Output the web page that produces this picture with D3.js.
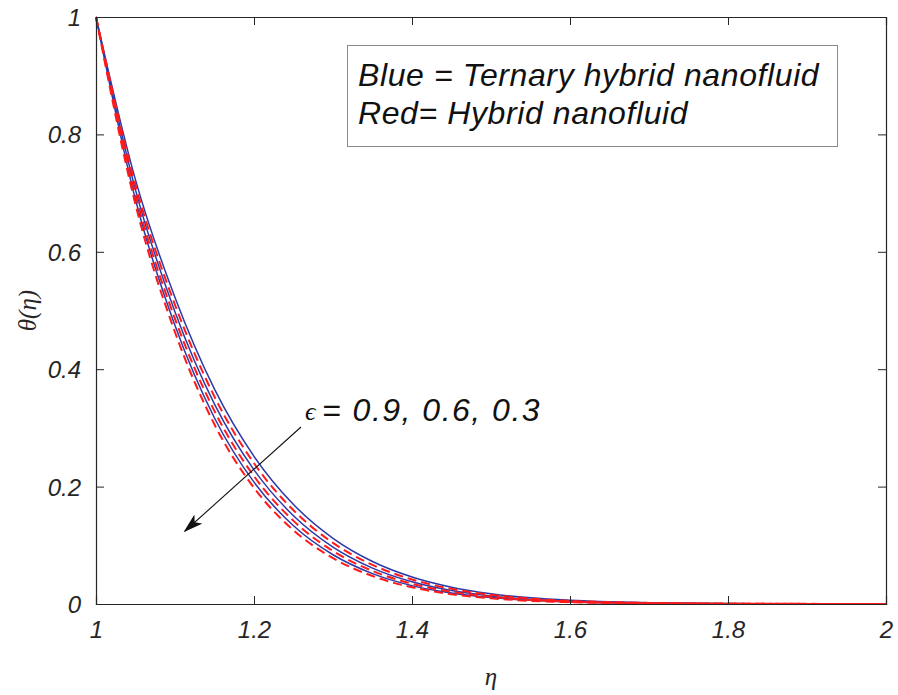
<!DOCTYPE html>
<html><head><meta charset="utf-8">
<script src="https://cdn.jsdelivr.net/npm/d3@7"></script>
<style>body{margin:0;background:#fff}</style>
</head><body>
<svg id="chart" width="898" height="695"></svg>
<script>
// ---- data ----
const eta = [1.00,1.05,1.10,1.15,1.20,1.25,1.30,1.35,1.40,1.45,1.50,1.55,1.60,1.70,1.80,1.90,2.00];
const blue09 = [1,0.7225,0.5220,0.3660,0.2516,0.1695,0.1119,0.0724,0.0460,0.0287,0.0176,0.0105,0.0062,0.0022,0.0008,0.0003,0];
const red09  = [1,0.7139,0.5097,0.3531,0.2398,0.1596,0.1041,0.0666,0.0418,0.0258,0.0156,0.0092,0.0053,0.0019,0.0007,0.00025,0];
const blue06 = [1,0.7054,0.4976,0.3406,0.2286,0.1503,0.0969,0.0612,0.0379,0.0231,0.0138,0.0080,0.0046,0.0016,0.0006,0.0002,0];
const red06  = [1,0.6970,0.4858,0.3286,0.2178,0.1416,0.0902,0.0563,0.0345,0.0208,0.0123,0.0070,0.0040,0.0014,0.0005,0.0002,0];
const blue03 = [1,0.6887,0.4743,0.3169,0.2076,0.1333,0.0839,0.0518,0.0313,0.0186,0.0109,0.0062,0.0035,0.0012,0.0004,0.00015,0];
const red03  = [1,0.6805,0.4630,0.3057,0.1979,0.1256,0.0781,0.0476,0.0284,0.0167,0.0097,0.0054,0.0030,0.0010,0.0004,0.0001,0];
const xTicks = [1,1.2,1.4,1.6,1.8,2];
const yTicks = [0,0.2,0.4,0.6,0.8,1];
const legendLines = ["Blue = Ternary hybrid nanofluid","Red= Hybrid nanofluid"];
const annotation = "= 0.9, 0.6, 0.3";

// ---- layout ----
const L=96, R=886, T=17, B=604;
const svg = d3.select("#chart");
const x = d3.scaleLinear().domain([1,2]).range([L,R]);
const y = d3.scaleLinear().domain([0,1]).range([B,T]);
const axisColor = "#262626";
const tickFont = "'Liberation Sans', Arial, sans-serif";

const line = d3.line().x((d,i)=>x(eta[i])).y(d=>y(d)).curve(d3.curveMonotoneX);

const blues = [blue09, blue06, blue03];
const reds = [red09, red06, red03];
blues.forEach(s=>{
  svg.append("path").attr("d", line(s)).attr("fill","none")
    .attr("stroke","#2b3aa8").attr("stroke-width",1.5);
});
reds.forEach(s=>{
  svg.append("path").attr("d", line(s)).attr("fill","none")
    .attr("stroke","#ff1a1a").attr("stroke-width",2).attr("stroke-dasharray","9,5");
});

// axes
const gx = svg.append("g").attr("transform",`translate(0,${B})`)
  .call(d3.axisBottom(x).tickValues(xTicks).tickSize(-8).tickPadding(17).tickFormat(d3.format("")));
const gxt = svg.append("g").attr("transform",`translate(0,${T})`)
  .call(d3.axisTop(x).tickValues(xTicks).tickSize(-8).tickFormat(""));
const gy = svg.append("g").attr("transform",`translate(${L},0)`)
  .call(d3.axisLeft(y).tickValues(yTicks).tickSize(-8).tickPadding(15).tickFormat(d3.format("")));
const gyr = svg.append("g").attr("transform",`translate(${R},0)`)
  .call(d3.axisRight(y).tickValues(yTicks).tickSize(-8).tickFormat(""));
[gx,gxt,gy,gyr].forEach(g=>{
  g.select(".domain").attr("stroke",axisColor).attr("stroke-width",1.2);
  g.selectAll(".tick line").attr("stroke",axisColor).attr("stroke-width",1);
  g.selectAll(".tick text").attr("fill","#262626").style("font-family",tickFont)
   .style("font-style","italic").style("font-size","24px");
});
gx.selectAll(".tick text").attr("dy","0.71em");
gy.selectAll(".tick text").attr("dy","0.35em");

// axis labels
svg.append("text").attr("x",(L+R)/2).attr("y",685).attr("text-anchor","middle")
  .style("font-family","'Liberation Serif','Times New Roman',serif").style("font-style","italic")
  .style("font-size","25px").attr("fill","#262626").text("η");
svg.append("text").attr("transform",`translate(36,${(T+B)/2}) rotate(-90)`).attr("text-anchor","middle")
  .style("font-family","'Liberation Serif','Times New Roman',serif").style("font-style","italic")
  .style("font-size","25px").attr("fill","#262626").text("θ(η)");

// legend box
svg.append("rect").attr("x",347.5).attr("y",45.5).attr("width",490).attr("height",101)
  .attr("fill","#fff").attr("stroke","#8a8a8a").attr("stroke-width",1);
legendLines.forEach((t,i)=>{
  svg.append("text").attr("x",358).attr("y",86+i*38)
    .style("font-family",tickFont).style("font-style","italic").style("font-size","32px")
    .style("letter-spacing","0.6px").attr("fill","#111").text(t);
});

// annotation
svg.append("text").attr("x",305).attr("y",420)
  .style("font-family","'Liberation Serif','Times New Roman',serif").style("font-style","italic")
  .style("font-size","26px").attr("fill","#111").text("ϵ");
svg.append("text").attr("x",322).attr("y",421)
  .style("font-family",tickFont).style("font-style","italic").style("font-size","32px")
  .style("letter-spacing","1.5px").attr("fill","#111").text(annotation);

// arrow
const defs = svg.append("defs");
defs.append("marker").attr("id","ah").attr("viewBox","0 0 20 12").attr("refX",18).attr("refY",6)
  .attr("markerWidth",20).attr("markerHeight",12).attr("markerUnits","userSpaceOnUse").attr("orient","auto")
  .append("path").attr("d","M0,0 L20,6 L0,12 L5,6 Z").attr("fill","#111");
svg.append("line").attr("x1",301).attr("y1",427).attr("x2",185).attr("y2",531)
  .attr("stroke","#111").attr("stroke-width",1.1).attr("marker-end","url(#ah)");
</script>
</body></html>
